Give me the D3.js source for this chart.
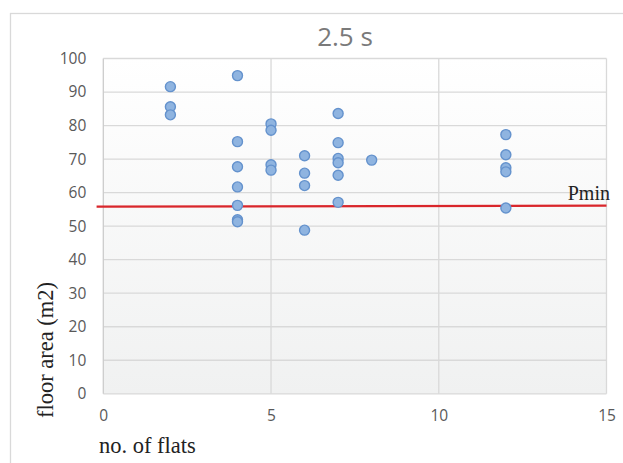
<!DOCTYPE html>
<html>
<head>
<meta charset="utf-8">
<script src="https://cdn.jsdelivr.net/npm/d3@7"></script>
<style>
  body { margin: 0; background: #fff; }
  svg { display: block; }
</style>
</head>
<body>
<div id="chart"></div>
<script>
// values
const flats = [2, 2, 2, 4, 4, 4, 4, 4, 4, 4, 5, 5, 5, 5, 6, 6, 6, 6, 7, 7, 7, 7, 7, 7, 8, 12, 12, 12, 12, 12];
const area = [91.6, 85.6, 83.2, 94.9, 75.2, 67.7, 61.7, 56.2, 51.9, 51.3, 80.5, 78.6, 68.3, 66.7,
              71.0, 65.8, 62.1, 48.8, 83.6, 74.9, 70.2, 68.9, 65.2, 57.1, 69.7, 77.3, 71.3, 67.4, 66.2, 55.4];
const xTicks = [0, 5, 10, 15];
const yTicks = [0, 10, 20, 30, 40, 50, 60, 70, 80, 90, 100];
const pminLine = [[-0.2, 55.8], [15, 56.1]];

const w = 623, h = 463;
const plotL = 103.3, plotR = 606.5, plotT = 58.5, plotB = 393.8;

const svg = d3.select("#chart").append("svg")
    .attr("width", w)
    .attr("height", h);

// outer chart frame (right/bottom edges are cut off in the picture)
svg.append("rect")
    .attr("x", 10.5).attr("y", 13.5)
    .attr("width", 700).attr("height", 600)
    .attr("fill", "#fff")
    .attr("stroke", "#d9d9d9")
    .attr("stroke-width", 1.3);

const grad = svg.append("defs").append("linearGradient")
    .attr("id", "bg").attr("x1", 0).attr("y1", 0).attr("x2", 0).attr("y2", 1);
grad.append("stop").attr("offset", "0%").attr("stop-color", "#ffffff");
grad.append("stop").attr("offset", "100%").attr("stop-color", "#f0f1f1");

const x = d3.scaleLinear().domain([0, 15]).range([plotL, plotR]);
const y = d3.scaleLinear().domain([0, 100]).range([plotB, plotT]);

svg.append("rect")
    .attr("x", plotL).attr("y", plotT)
    .attr("width", plotR - plotL).attr("height", plotB - plotT)
    .attr("fill", "url(#bg)");

// grid
svg.append("g").selectAll("line")
    .data(yTicks)
    .join("line")
    .attr("x1", plotL).attr("x2", plotR)
    .attr("y1", d => y(d)).attr("y2", d => y(d))
    .attr("stroke", "#d9d9d9").attr("stroke-width", 1.3);

svg.append("g").selectAll("line")
    .data(xTicks)
    .join("line")
    .attr("y1", plotT).attr("y2", plotB)
    .attr("x1", d => x(d)).attr("x2", d => x(d))
    .attr("stroke", d => d === 0 ? "#cccccc" : "#d9d9d9").attr("stroke-width", 1.3);

// axes (labels only)
const yAxis = svg.append("g")
    .attr("transform", `translate(${plotL}, 0)`)
    .call(d3.axisLeft(y).tickValues(yTicks).tickSize(0).tickPadding(17));
const xAxis = svg.append("g")
    .attr("transform", `translate(0, ${plotB})`)
    .call(d3.axisBottom(x).tickValues(xTicks).tickSize(0).tickPadding(16));
[xAxis, yAxis].forEach(a => {
    a.select(".domain").remove();
    a.selectAll("text")
        .attr("fill", "#595959")
        .style("font-family", "'Open Sans', sans-serif")
        .style("font-size", "15.5px");
});

// Pmin line
svg.append("path")
    .datum(pminLine)
    .attr("d", d3.line().x(d => x(d[0])).y(d => y(d[1])))
    .attr("fill", "none")
    .attr("stroke", "#d9262b")
    .attr("stroke-width", 2.2);

svg.append("text")
    .attr("x", 610).attr("y", 200)
    .attr("text-anchor", "end")
    .style("font-family", "'Liberation Serif', serif")
    .style("font-size", "20px")
    .attr("fill", "#222")
    .text("Pmin");

// points
svg.append("g").selectAll("circle")
    .data(flats.map((f, i) => [f, area[i]]))
    .join("circle")
    .attr("cx", d => x(d[0]))
    .attr("cy", d => y(d[1]))
    .attr("r", 5)
    .attr("fill", "#8fb4e0")
    .attr("stroke", "#6492cd")
    .attr("stroke-width", 1.4);

// title and axis titles
svg.append("text")
    .attr("x", 345).attr("y", 46)
    .attr("text-anchor", "middle")
    .style("font-family", "'Open Sans', sans-serif")
    .style("font-size", "26px")
    .attr("fill", "#7a7a7a")
    .text("2.5 s");

svg.append("text")
    .attr("x", 99).attr("y", 453)
    .style("font-family", "'Liberation Serif', serif")
    .style("font-size", "22.5px")
    .attr("fill", "#222")
    .text("no. of flats");

svg.append("text")
    .attr("transform", "translate(53, 350) rotate(-90)")
    .attr("text-anchor", "middle")
    .style("font-family", "'Liberation Serif', serif")
    .style("font-size", "22.5px")
    .attr("fill", "#222")
    .text("floor area (m2)");
</script>
</body>
</html>
